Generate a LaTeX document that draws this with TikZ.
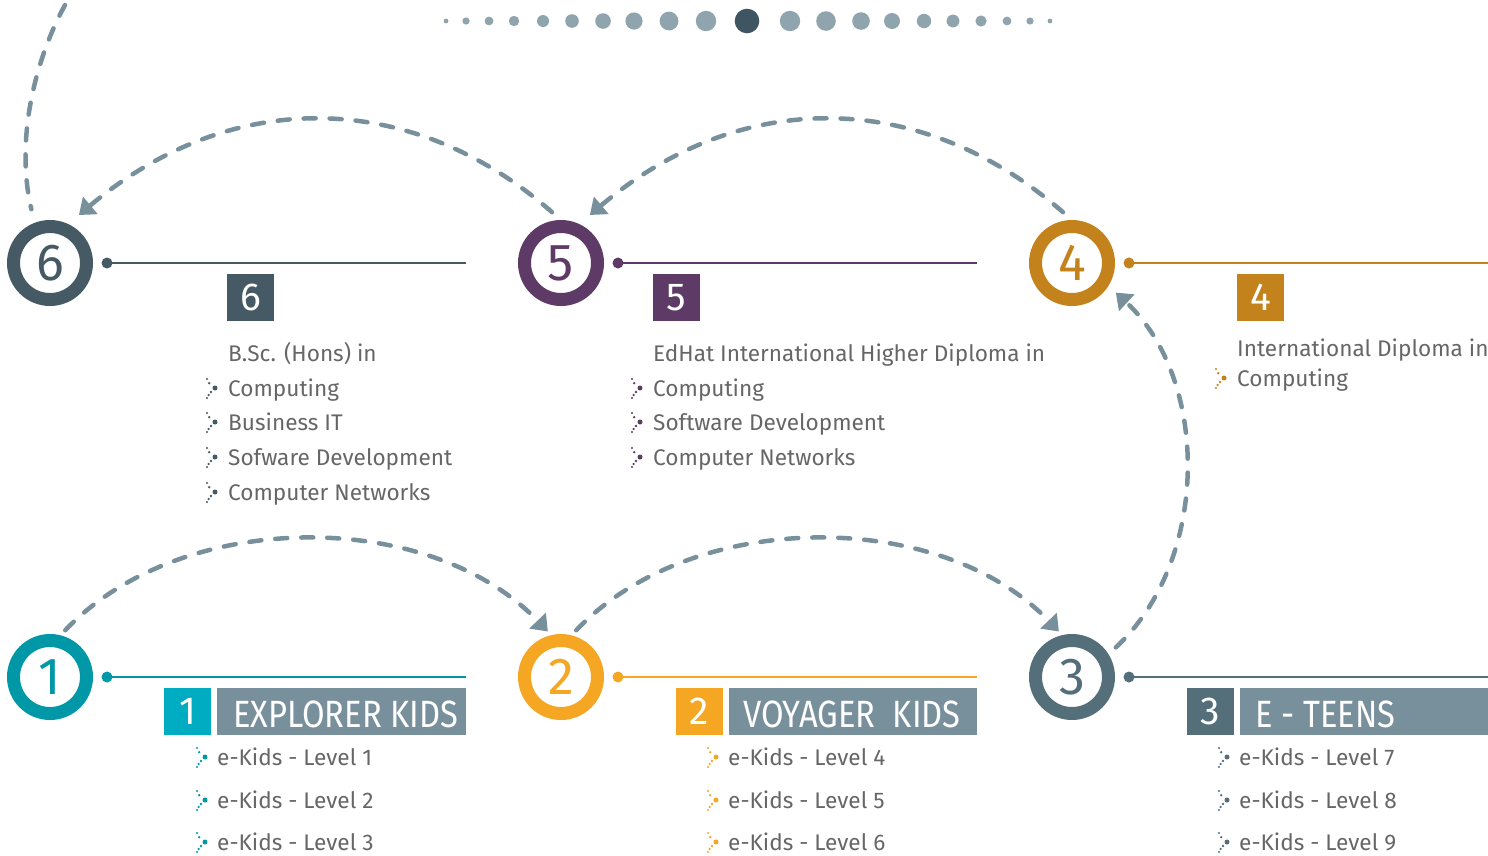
\documentclass[tikz,border=0pt]{standalone}
\usepackage{fontspec}
\setmainfont{Fira Sans}
\usepackage{graphicx}
\usetikzlibrary{arrows.meta}
\definecolor{cSix}{HTML}{455A64}
\definecolor{cFive}{HTML}{5E3A66}
\definecolor{cFour}{HTML}{C4821C}
\definecolor{cOne}{HTML}{0097A7}
\definecolor{cOneBox}{HTML}{00ACC1}
\definecolor{cTwo}{HTML}{F5A623}
\definecolor{cThree}{HTML}{546E7A}
\definecolor{cHead}{HTML}{78909C}
\definecolor{cDash}{HTML}{78909C}
\definecolor{cDot}{HTML}{90A4AE}
\definecolor{cDotDark}{HTML}{3F5561}
\definecolor{cText}{HTML}{666666}
\tikzset{chev/.pic={
  \fill (0,-9) circle (1.2); \fill (2.2,-4.8) circle (1.3); \fill (8,0) circle (2.5);
  \fill (4,4) circle (1.3); \fill (1.6,7) circle (1.2); \fill (0,10) circle (1.1);}}
\begin{document}
\begin{tikzpicture}[x=1pt,y=-1pt,
  ring/.style={circle, draw=#1, line width=13pt, minimum size=73pt, inner sep=0pt, text=#1, font=\fontsize{52}{52}\selectfont},
  hub/.style={circle, fill=#1, minimum size=11pt, inner sep=0pt},
  rail/.style={draw=#1, line width=2.5pt},
  numbox/.style={fill=#1, text=white, minimum width=47pt, minimum height=47pt, inner sep=0pt, font=\fontsize{39}{39}\selectfont},
  headbox/.style={fill=cHead, minimum height=47pt, inner sep=0pt, anchor=west},
  headtext/.style={anchor=base west, inner sep=0pt, text=white, font=\fontsize{38}{38}\selectfont},
  item/.style={anchor=base west, inner sep=0pt, text=cText, font=\fontsize{22.6}{27}\selectfont},
  flow/.style={draw=cDash, line width=4.5pt, dash pattern=on 12pt off 14pt, line cap=round},
  tip/.style={-{Triangle[length=15pt,width=22pt]}}
]
\useasboundingbox (0,0) rectangle (1488,855);

% top dots
\foreach \x/\r in {446/2.4,466/3.6,489/4.4,514/5.2,543/6,572/6.8,603/7.8,634/8.6,669/9.4,706/10.2,790/10.2,826/9.8,861/8.8,892/8,924/7.2,953/6.4,981/5.6,1007/4.4,1030/3.6,1050/2.4}
  \fill[cDot] (\x,21) circle (\r);
\fill[cDotDark] (747,21) circle (12.3);

% rings
\node[ring=cSix]   (c6) at (50,263) {6};
\node[ring=cFive]  (c5) at (561,263) {5};
\node[ring=cFour]  (c4) at (1072,263) {4};
\node[ring=cOne]   (c1) at (50,677) {1};
\node[ring=cTwo]   (c2) at (561,677) {2};
\node[ring=cThree] (c3) at (1072,677) {3};

% hubs and rails
\node[hub=cSix]   (h6) at (107,263) {};
\node[hub=cFive]  (h5) at (618,263) {};
\node[hub=cFour]  (h4) at (1129,263) {};
\node[hub=cOne]   (h1) at (107,677) {};
\node[hub=cTwo]   (h2) at (618,677) {};
\node[hub=cThree] (h3) at (1129,677) {};
\coordinate (e6) at (466,263);
\coordinate (e5) at (977,263);
\coordinate (e4) at (1488,263);
\coordinate (e1) at (466,677);
\coordinate (e2) at (977,677);
\coordinate (e3) at (1488,677);
\draw[rail=cSix]   (h6.center) -- (e6);
\draw[rail=cFive]  (h5.center) -- (e5);
\draw[rail=cFour]  (h4.center) -- (e4);
\draw[rail=cOne]   (h1.center) -- (e1);
\draw[rail=cTwo]   (h2.center) -- (e2);
\draw[rail=cThree] (h3.center) -- (e3);

% dashed flows
\draw[flow,tip,shorten <=7pt,shorten >=5pt] (c1.76) .. controls (182,508) and (430,508) .. (c2.103);
\draw[flow,tip,shorten <=7pt,shorten >=5pt] (c2.76) .. controls (693,508) and (941,508) .. (c3.103);
\draw[flow,tip,shorten <=10pt,shorten >=10pt] (c3.32) .. controls (1210,560) and (1210,380) .. (c4.-32);
\draw[flow,tip,shorten <=12pt,shorten >=14pt] (c4.90) .. controls (920,88) and (740,88) .. (c5.65);
\draw[flow,tip,shorten <=12pt,shorten >=14pt] (c5.90) .. controls (410,88) and (230,88) .. (c6.65);
\coordinate (tl) at (65,5);
\draw[flow,shorten >=14pt] (tl) .. controls (35,60) and (15,140) .. (c6.111);

% top labels
\node[numbox=cSix]  (b6) at (250.5,297.5) {6};
\node[numbox=cFive] (b5) at (676.5,297.5) {5};
\node[numbox=cFour] (b4) at (1260.5,297.5) {4};

\node[item] (t6a) at (228,361) {B.Sc. (Hons) in};
\node[item] (t6b) at (228,396) {Computing};
\node[item] (t6c) at (228,430) {Business IT};
\node[item] (t6d) at (228,465) {Sofware Development};
\node[item] (t6e) at (228,500) {Computer Networks};
\foreach \y in {396,430,465,500} \pic[color=cSix] at (207,\y-8) {chev};

\node[item] (t5a) at (653,361) {EdHat International Higher Diploma in};
\node[item] (t5b) at (653,396) {Computing};
\node[item] (t5c) at (653,430) {Software Development};
\node[item] (t5d) at (653,465) {Computer Networks};
\foreach \y in {396,430,465} \pic[color=cFive] at (632,\y-8) {chev};

\node[item] (t4a) at (1237,356) {International Diploma in};
\node[item] (t4b) at (1237,386) {Computing};
\pic[color=cFour] at (1216,378) {chev};

% bottom labels
\node[numbox=cOneBox] (b1) at (187.5,711.5) {1};
\node[headbox, minimum width=249pt] (k1) at (217,711.5) {};
\node[headtext] (k1t) at (233,727) {\scalebox{0.86}[1]{EXPLORER KIDS}};
\node[numbox=cTwo] (b2) at (699.5,711.5) {2};
\node[headbox, minimum width=248pt] (k2) at (729,711.5) {};
\node[headtext] (k2t) at (743,727) {\scalebox{0.86}[1]{VOYAGER\ \ KIDS}};
\node[numbox=cThree] (b3) at (1210.5,711.5) {3};
\node[headbox, minimum width=248pt] (k3) at (1240,711.5) {};
\node[headtext] (k3t) at (1255,727) {\scalebox{0.86}[1]{E - TEENS}};

\node[item] (l1) at (217,765) {e-Kids - Level 1};
\node[item] (l2) at (217,808) {e-Kids - Level 2};
\node[item] (l3) at (217,850) {e-Kids - Level 3};
\node[item] (l4) at (728,765) {e-Kids - Level 4};
\node[item] (l5) at (728,808) {e-Kids - Level 5};
\node[item] (l6) at (728,850) {e-Kids - Level 6};
\node[item] (l7) at (1239,765) {e-Kids - Level 7};
\node[item] (l8) at (1239,808) {e-Kids - Level 8};
\node[item] (l9) at (1239,850) {e-Kids - Level 9};
\foreach \y in {765,808,850} {
  \pic[color=cOne] at (197,\y-8) {chev};
  \pic[color=cTwo] at (708,\y-8) {chev};
  \pic[color=cThree] at (1219,\y-8) {chev};
}
\end{tikzpicture}
\end{document}
